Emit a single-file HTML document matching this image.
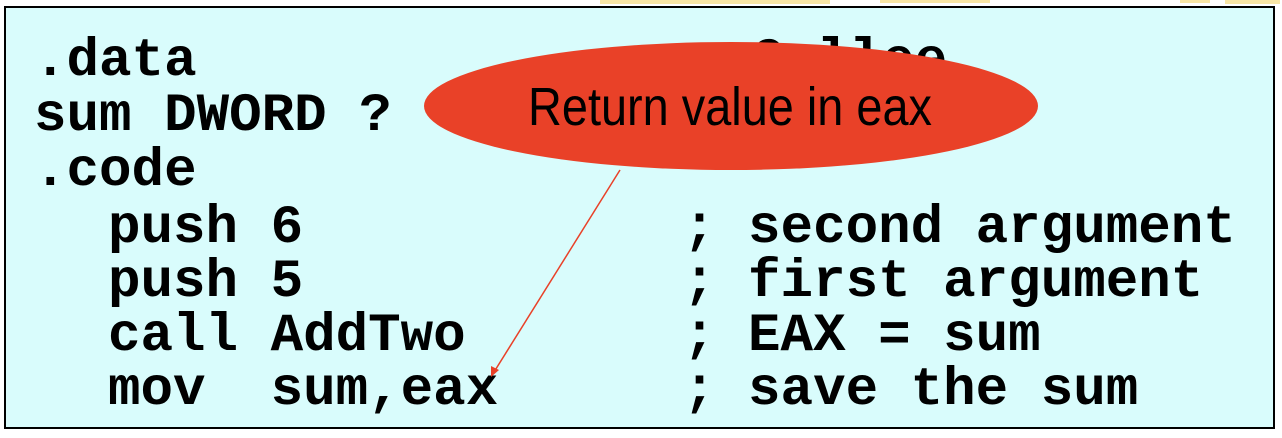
<!DOCTYPE html>
<html><head><meta charset="utf-8"><style>
html,body{margin:0;padding:0;background:#fff;width:1282px;height:438px;overflow:hidden}
svg{display:block}
.m{font-family:"Liberation Mono",monospace;font-weight:bold;font-size:54.2px;fill:#000;white-space:pre}
</style></head><body>
<svg width="1282" height="438" xmlns="http://www.w3.org/2000/svg">
<rect x="600" y="0" width="230" height="4" fill="#f8e6a6"/>
<rect x="880" y="0" width="110" height="3" fill="#f8e6a6"/>
<rect x="1180" y="0" width="30" height="3" fill="#f8e6a6"/>
<rect x="1225" y="0" width="55" height="4" fill="#f8e6a6"/>
<rect x="5" y="7" width="1269" height="421" fill="#d9fcfc" stroke="#000" stroke-width="2"/>
<text class="m" x="34" y="75" xml:space="preserve">.data</text>
<text class="m" x="752" y="75">Callee</text>
<text class="m" x="34" y="130" xml:space="preserve">sum DWORD ?</text>
<text class="m" x="34" y="185">.code</text>
<text class="m" x="108" y="242" xml:space="preserve">push 6</text>
<text class="m" x="108" y="296" xml:space="preserve">push 5</text>
<text class="m" x="108" y="350" xml:space="preserve">call AddTwo</text>
<text class="m" x="108" y="404" xml:space="preserve">mov  sum,eax</text>
<text class="m" x="683" y="242" xml:space="preserve">; second argument</text>
<text class="m" x="683" y="296" xml:space="preserve">; first argument</text>
<text class="m" x="683" y="350" xml:space="preserve">; EAX = sum</text>
<text class="m" x="683" y="404" xml:space="preserve">; save the sum</text>
<ellipse cx="731" cy="106" rx="307" ry="64" fill="#e94128"/>
<text x="528" y="125" font-family="Liberation Sans, sans-serif" font-size="54" textLength="404" lengthAdjust="spacingAndGlyphs" fill="#000">Return value in eax</text>
<line x1="620" y1="170" x2="494" y2="372" stroke="#e94128" stroke-width="1.5"/>
<polygon points="491,377 491,366 499,370" fill="#e94128"/>
</svg>
</body></html>
